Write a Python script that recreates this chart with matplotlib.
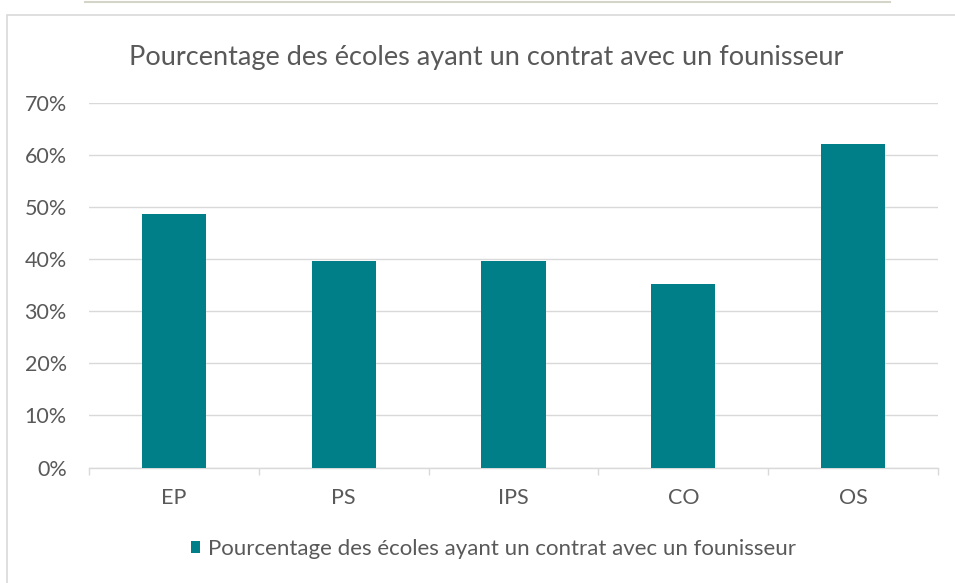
import numpy as np
import matplotlib.pyplot as plt
from matplotlib.lines import Line2D
from matplotlib.patches import Rectangle

categories = ['EP', 'PS', 'IPS', 'CO', 'OS']
values = [0.488, 0.396, 0.396, 0.353, 0.621]
series_name = 'Pourcentage des écoles ayant un contrat avec un founisseur'
y_ticks = [0.0, 0.1, 0.2, 0.3, 0.4, 0.5, 0.6, 0.7]
y_labels = ['0%', '10%', '20%', '30%', '40%', '50%', '60%', '70%']

W, H = 955, 583
BAR = '#007F89'
TXT = '#595959'
GRID = '#D9D9D9'

plt.rcParams['font.family'] = ['Lato', 'DejaVu Sans']

fig = plt.figure(figsize=(W / 100, H / 100), dpi=100)

# chart frame and the bottom edge of the chart above it
fig.add_artist(Rectangle((7 / W, -0.5), 2.0, 1.5 - 14.5 / H, transform=fig.transFigure,
                         fill=False, edgecolor='#D9D9D9', linewidth=1.2))
fig.add_artist(Line2D([85 / W, 890 / W], [1 - 1.5 / H, 1 - 1.5 / H],
                      transform=fig.transFigure, color='#D4D4C8', linewidth=1.5))

left, right = 89 / W, 938 / W
bottom, top = 1 - 467.5 / H, 1 - 103.3 / H
ax = fig.add_axes([left, bottom, right - left, top - bottom])

x = np.arange(len(categories))
bars = ax.bar(x, values, width=0.377, color=BAR, zorder=3)

ax.set_xlim(-0.5, len(categories) - 0.5)
ax.set_ylim(0, 0.7)
ax.set_yticks(y_ticks)
ax.set_yticklabels(y_labels)
ax.yaxis.grid(True, color=GRID, linewidth=1.0, zorder=0)

ax.set_xticks(x)
ax.set_xticklabels(categories)
ax.set_xticks(np.arange(-0.5, len(categories)), minor=True)
ax.tick_params(axis='x', which='major', length=0, pad=15, labelsize=15.5, labelcolor=TXT)
ax.tick_params(axis='x', which='minor', length=5, width=1, color=GRID)
ax.tick_params(axis='y', length=0, pad=16, labelsize=15.5, labelcolor=TXT)

for side in ['top', 'right', 'left']:
    ax.spines[side].set_visible(False)
ax.spines['bottom'].set_color(GRID)
ax.spines['bottom'].set_linewidth(1.0)

fig.text(486 / W, 1 - 57 / H, series_name, ha='center', va='center',
         fontsize=19.5, color=TXT)

fig.legend([bars[0]], [series_name], loc='center',
           bbox_to_anchor=(493.5 / W, 1 - 549 / H), frameon=False,
           handlelength=0.42, handleheight=0.42, handletextpad=0.35,
           fontsize=16, labelcolor=TXT)

fig.savefig('out.png', dpi=100)
